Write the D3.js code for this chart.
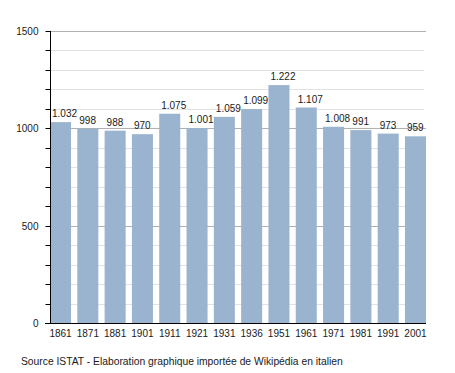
<!DOCTYPE html>
<html>
<head>
<meta charset="utf-8">
<script src="https://cdn.jsdelivr.net/npm/d3@7"></script>
<style>
  body { margin: 0; background: #fff; }
  text { font-family: "Liberation Sans", Arial, sans-serif; }
</style>
</head>
<body>
<script>
// data
var years = ["1861","1871","1881","1901","1911","1921","1931","1936","1951","1961","1971","1981","1991","2001"];
var population = [1032, 998, 988, 970, 1075, 1001, 1059, 1099, 1222, 1107, 1008, 991, 973, 959];
var yMajor = [0, 500, 1000, 1500];
var source = "Source ISTAT - Elaboration graphique importée de Wikipédia en italien";

var w = 455, h = 373;
var plotL = 50, plotR = 426, plotT = 31, plotB = 323;

var svg = d3.select("body").append("svg")
    .attr("width", w)
    .attr("height", h);

var x = d3.scaleBand()
    .domain(years)
    .range([plotL, plotR])
    .paddingInner(0.23)
    .paddingOuter(0);

var y = d3.scaleLinear()
    .domain([0, 1500])
    .range([plotB, plotT]);

var fmt = d3.formatLocale({decimal: ",", thousands: ".", grouping: [3], currency: ["", ""]}).format(",d");

// minor grid every 100
svg.append("g").selectAll("line")
    .data(d3.range(100, 1500, 100).filter(function(d){ return d % 500 != 0; }))
    .enter().append("line")
    .attr("x1", plotL).attr("x2", plotR - 2)
    .attr("y1", function(d){ return Math.round(y(d)) + 0.5; })
    .attr("y2", function(d){ return Math.round(y(d)) + 0.5; })
    .attr("stroke", "#e2e2e2")
    .attr("stroke-width", 1);

// major grid
svg.append("g").selectAll("line")
    .data(yMajor.slice(1))
    .enter().append("line")
    .attr("x1", plotL).attr("x2", plotR)
    .attr("y1", function(d){ return Math.round(y(d)) + 0.5; })
    .attr("y2", function(d){ return Math.round(y(d)) + 0.5; })
    .attr("stroke", "#b0b0b0")
    .attr("stroke-width", 1);

// bars
svg.append("g").selectAll("rect")
    .data(population)
    .enter().append("rect")
    .attr("x", function(d, i){ return x(years[i]); })
    .attr("y", function(d){ return y(d); })
    .attr("width", x.bandwidth())
    .attr("height", function(d){ return plotB - y(d); })
    .attr("fill", "#9ab3cf");

// value labels
svg.append("g").selectAll("text")
    .data(population)
    .enter().append("text")
    .attr("x", function(d, i){ return x(years[i]) + 2; })
    .attr("y", function(d){ return y(d) - 5; })
    .style("font-size", "10px")
    .attr("fill", "#1a1a1a")
    .text(function(d){ return fmt(d); });

// y axis
var yAxis = d3.axisLeft(y)
    .tickValues(d3.range(0, 1501, 100))
    .tickSize(5)
    .tickFormat(function(d){ return d % 500 == 0 ? d : ""; });
var gy = svg.append("g")
    .attr("transform", "translate(" + (plotL + 0.5) + ",0)")
    .call(yAxis);
gy.select(".domain").attr("d", "M0," + plotT + "V" + plotB).attr("stroke", "#000");
gy.selectAll(".tick").attr("transform", function(d){ return "translate(0," + (Math.round(y(d)) + 0.5) + ")"; });
gy.selectAll(".tick line").attr("stroke", "#000");
gy.selectAll(".tick text")
    .attr("x", -12)
    .style("font-size", "10px")
    .style("font-family", "Liberation Sans, Arial, sans-serif")
    .attr("fill", "#1a1a1a");

// x axis
var xAxis = d3.axisBottom(x).tickSize(0).tickPadding(6);
var gx = svg.append("g")
    .attr("transform", "translate(0," + (plotB + 0.5) + ")")
    .call(xAxis);
gx.select(".domain").attr("d", "M" + (plotL - 5) + ",0H" + plotR).attr("stroke", "#000");
gx.selectAll(".tick text")
    .style("font-size", "10px")
    .style("font-family", "Liberation Sans, Arial, sans-serif")
    .attr("fill", "#1a1a1a");

// source
svg.append("text")
    .attr("x", 21)
    .attr("y", 365)
    .style("font-size", "10.3px")
    .attr("fill", "#1a1a1a")
    .text(source);
</script>
</body>
</html>
